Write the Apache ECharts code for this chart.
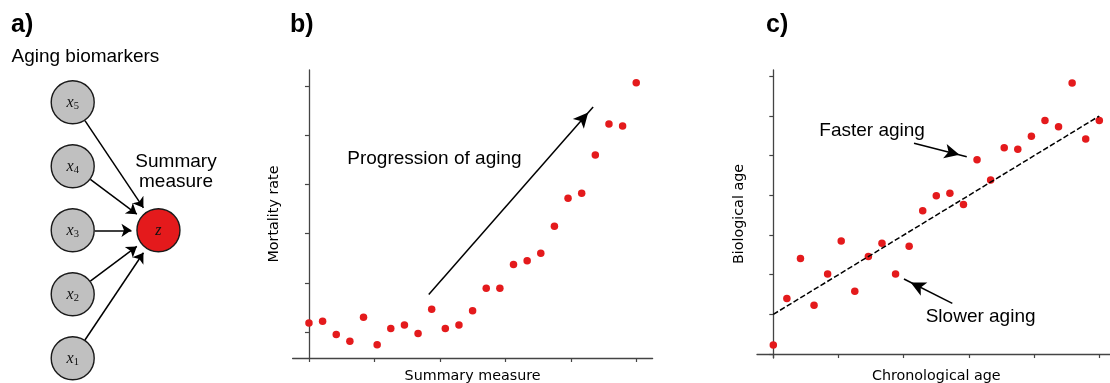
<!DOCTYPE html>
<html>
<head>
<meta charset="utf-8">
<script src="https://cdn.jsdelivr.net/npm/echarts@6/dist/echarts.min.js"></script>
<style>
  html, body { margin: 0; padding: 0; background: #ffffff; }
  #chart { width: 1110px; height: 383px; }
</style>
</head>
<body>
<div id="chart"></div>
<script>
// ---- Panel a: aging biomarkers feeding one summary node ----
const biomarkerIds = ['x1', 'x2', 'x3', 'x4', 'x5'];
const biomarkerRows = [1, 2, 3, 4, 5];
const summaryId = 'z';
const summaryCol = 1.34;
const summaryRow = 3;

// ---- Panel b: mortality rate against the summary measure ----
const measureX = [0, 1, 2, 3, 4, 5, 6, 7, 8, 9, 10, 11, 12, 13, 14, 15, 16, 17, 18, 19, 20, 21, 22, 23, 24];
const mortality = [1.18, 1.22, 0.95, 0.81, 1.30, 0.74, 1.07, 1.14, 0.97, 1.46, 1.07, 1.14, 1.43,
                   1.89, 1.89, 2.37, 2.45, 2.60, 3.15, 3.72, 3.82, 4.60, 5.23, 5.19, 6.07];

// ---- Panel c: biological age against chronological age ----
const chronoAge = [0, 1, 2, 3, 4, 5, 6, 7, 8, 9, 10, 11, 12, 13, 14, 15, 16, 17, 18, 19, 20, 21, 22, 23, 24];
const bioAge = [0.23, 1.40, 2.41, 1.23, 2.02, 2.85, 1.58, 2.46, 2.79, 2.02, 2.72, 3.61, 3.99,
                4.05, 3.77, 4.90, 4.39, 5.20, 5.16, 5.49, 5.89, 5.73, 6.83, 5.42, 5.89];
const trendX = [0, 24];
const trendY = [1.0, 6.0];

// Tick positions (no tick labels are drawn)
const xTicks = [0, 4.8, 9.6, 14.4, 19.2, 24];
const mortalityTicks = [1, 2, 3, 4, 5, 6];
const bioAgeTicks = [0, 1, 2, 3, 4, 5, 6, 7];

const RED = '#e41a1c';
const AXIS = '#444444';
const SANS = "'Liberation Sans', Arial, Helvetica, sans-serif";
const AXIS_FONT = "'DejaVu Sans', Verdana, sans-serif";
const MATH_FONT = "'Liberation Serif', 'DejaVu Serif', serif";

// Diagram geometry: one diagram unit is 64px on both axes
const NODE_PX = 43;
const UNIT_PX = 64;
const ARROW_A = [7, 10];

function zip(xs, ys) { return xs.map((x, i) => [x, ys[i]]); }

function plotXAxis(gridIndex, name, gap) {
  return {
    type: 'value', gridIndex, min: -1.2, max: 25.2,
    name, nameLocation: 'middle', nameGap: gap,
    nameTextStyle: { fontFamily: AXIS_FONT, fontSize: 14.3, color: '#000' },
    axisLine: { show: true, lineStyle: { color: AXIS, width: 1.3 } },
    axisTick: { show: true, customValues: xTicks, length: 4, inside: false, lineStyle: { color: AXIS, width: 1.2 } },
    axisLabel: { show: false },
    splitLine: { show: false }
  };
}

function plotYAxis(gridIndex, min, max, ticks, name, gap) {
  return {
    type: 'value', gridIndex, min, max,
    name, nameLocation: 'middle', nameGap: gap, nameRotate: 90,
    nameTextStyle: { fontFamily: AXIS_FONT, fontSize: 14.3, color: '#000' },
    axisLine: { show: true, lineStyle: { color: AXIS, width: 1.3 } },
    axisTick: { show: true, customValues: ticks, length: 4, inside: false, lineStyle: { color: AXIS, width: 1.2 } },
    axisLabel: { show: false },
    splitLine: { show: false }
  };
}

const hiddenAxis = (gridIndex, min, max) => ({
  type: 'value', gridIndex, min, max, show: false,
  axisLine: { show: false }, axisTick: { show: false }, axisLabel: { show: false }, splitLine: { show: false }
});

const nodeLabelRich = {
  v: { fontFamily: MATH_FONT, fontStyle: 'italic', fontSize: 16, color: '#111', lineHeight: 16 },
  s: { fontFamily: MATH_FONT, fontSize: 10.5, color: '#111', lineHeight: 10, padding: [8, 0, 0, 0] }
};

const graphNodes = biomarkerIds.map((id, i) => ({
  name: id,
  value: [0, biomarkerRows[i]],
  label: { formatter: '{v|x}{s|' + id.slice(1) + '}' }
})).concat([{
  name: summaryId,
  value: [summaryCol, summaryRow],
  itemStyle: { color: RED },
  label: { formatter: '{v|z}' }
}]);

// Each edge runs from a biomarker node's rim to the summary node's rim;
// the arrow symbol is centred on the end point, so pull it back by half its length.
const edgeCoords = biomarkerRows.map(row => {
  const dx = summaryCol - 0, dy = summaryRow - row;
  const len = Math.hypot(dx, dy);
  const ux = dx / len, uy = dy / len;
  const r = (NODE_PX / 2 + 0.5) / UNIT_PX;
  const back = r + (ARROW_A[1] / 2) / UNIT_PX;
  return { coords: [[ux * r, row + uy * r], [summaryCol - ux * back, summaryRow - uy * back]] };
});

const arrowEnd = (coord) => ({ coord, symbol: 'arrow', symbolSize: [11, 15], symbolOffset: [0, '50%'] });

const option = {
  backgroundColor: '#ffffff',
  animation: false,
  grid: [
    { left: 40.7, top: 70.3, width: 160, height: 320, outerBoundsMode: 'none', containLabel: false },
    { left: 292.6, top: 70, width: 360, height: 288, outerBoundsMode: 'none', containLabel: false },
    { left: 757, top: 70, width: 358.6, height: 288, outerBoundsMode: 'none', containLabel: false }
  ],
  xAxis: [
    hiddenAxis(0, -0.5, 2),
    plotXAxis(1, 'Summary measure', 11),
    plotXAxis(2, 'Chronological age', 11)
  ],
  yAxis: [
    hiddenAxis(0, 0.5, 5.5),
    plotYAxis(1, 0.47, 6.33, mortalityTicks, 'Mortality rate', 11),
    plotYAxis(2, -0.1, 7.16, bioAgeTicks, 'Biological age', 11)
  ],
  series: [
    {
      type: 'lines',
      coordinateSystem: 'cartesian2d',
      xAxisIndex: 0, yAxisIndex: 0,
      symbol: ['none', 'arrow'],
      symbolSize: ARROW_A,
      lineStyle: { color: '#000', width: 1.5, opacity: 1, curveness: 0 },
      data: edgeCoords,
      silent: true,
      z: 1
    },
    {
      type: 'graph',
      coordinateSystem: 'cartesian2d',
      xAxisIndex: 0, yAxisIndex: 0,
      symbol: 'circle',
      symbolSize: NODE_PX,
      itemStyle: { color: '#c0c0c0', borderColor: '#1a1a1a', borderWidth: 1.4, opacity: 1 },
      label: { show: true, position: 'inside', rich: nodeLabelRich },
      emphasis: { disabled: true },
      data: graphNodes,
      links: [],
      silent: true,
      z: 3
    },
    {
      type: 'scatter',
      xAxisIndex: 1, yAxisIndex: 1,
      data: zip(measureX, mortality),
      symbol: 'circle', symbolSize: 7.5,
      itemStyle: { color: RED, opacity: 1 },
      silent: true,
      markLine: {
        silent: true,
        animation: false,
        symbol: ['none', 'arrow'],
        lineStyle: { color: '#000', width: 1.5, type: 'solid' },
        label: { show: false },
        emphasis: { disabled: true },
        data: [[
          { coord: [8.785, 1.761], symbol: 'none' },
          arrowEnd([20.84, 5.579])
        ]]
      }
    },
    {
      type: 'line',
      xAxisIndex: 2, yAxisIndex: 2,
      data: zip(trendX, trendY),
      showSymbol: false, symbol: 'none',
      lineStyle: { color: '#000', width: 1.5, type: [5.5, 2.4] },
      silent: true
    },
    {
      type: 'scatter',
      xAxisIndex: 2, yAxisIndex: 2,
      data: zip(chronoAge, bioAge),
      symbol: 'circle', symbolSize: 7.5,
      itemStyle: { color: RED, opacity: 1 },
      silent: true,
      markLine: {
        silent: true,
        animation: false,
        symbol: ['none', 'arrow'],
        lineStyle: { color: '#000', width: 1.5, type: 'solid' },
        label: { show: false },
        emphasis: { disabled: true },
        data: [
          [ { coord: [10.36, 5.311], symbol: 'none' }, arrowEnd([14.24, 4.974]) ],
          [ { coord: [13.18, 1.278], symbol: 'none' }, arrowEnd([9.62, 1.891]) ]
        ]
      }
    }
  ],
  graphic: [
    { type: 'text', left: 11, top: 13, style: { text: 'a)', font: "bold 25px " + SANS, fill: '#000' } },
    { type: 'text', left: 290, top: 13, style: { text: 'b)', font: "bold 25px " + SANS, fill: '#000' } },
    { type: 'text', left: 766, top: 13, style: { text: 'c)', font: "bold 25px " + SANS, fill: '#000' } },
    { type: 'text', left: 11.5, top: 47.5, style: { text: 'Aging biomarkers', font: "19px " + SANS, fill: '#000' } },
    { type: 'text', x: 176, y: 171.5, style: { text: 'Summary\nmeasure', font: "19px " + SANS, fill: '#000', align: 'center', verticalAlign: 'middle', lineHeight: 20 } },
    { type: 'text', x: 347.3, y: 159, style: { text: 'Progression of aging', font: "19px " + SANS, fill: '#000', align: 'left', verticalAlign: 'middle' } },
    { type: 'text', x: 819.3, y: 130.5, style: { text: 'Faster aging', font: "19px " + SANS, fill: '#000', align: 'left', verticalAlign: 'middle' } },
    { type: 'text', x: 925.7, y: 317, style: { text: 'Slower aging', font: "19px " + SANS, fill: '#000', align: 'left', verticalAlign: 'middle' } }
  ]
};

const chart = echarts.init(document.getElementById('chart'), null, { renderer: 'canvas' });
chart.setOption(option);
</script>
</body>
</html>
